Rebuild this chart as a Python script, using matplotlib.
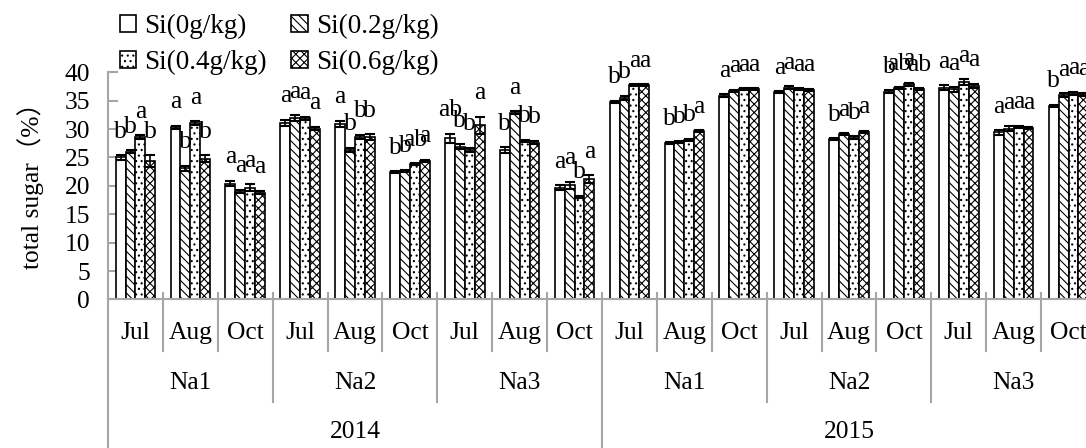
import numpy as np
import matplotlib.pyplot as plt
from matplotlib.patches import Patch
from matplotlib.transforms import blended_transform_factory

plt.rcParams['font.family'] = ['Liberation Serif', 'Noto Sans CJK SC']
plt.rcParams['hatch.linewidth'] = 0.8
plt.rcParams['hatch.color'] = 'black'

# category levels
years = ['2014', '2015']
sites = ['Na1', 'Na2', 'Na3']
months = ['Jul', 'Aug', 'Oct']

series_names = ['Si(0g/kg)', 'Si(0.2g/kg)', 'Si(0.4g/kg)', 'Si(0.6g/kg)']

# total sugar (%), order: 2014 Na1 Jul..Oct, Na2, Na3, then 2015
si_0 = [25.0, 30.3, 20.4, 31.1, 30.9, 22.4, 28.4, 26.3, 19.7,
        34.8, 27.5, 35.9, 36.5, 28.2, 36.6, 37.3, 29.4, 34.1]
si_02 = [26.0, 23.1, 19.0, 31.9, 26.3, 22.6, 26.9, 32.9, 20.1,
         35.5, 27.7, 36.7, 37.3, 29.1, 37.2, 37.0, 30.1, 36.0]
si_04 = [28.6, 31.1, 19.7, 31.9, 28.6, 23.8, 26.3, 27.9, 18.1,
         37.7, 28.1, 37.0, 37.0, 28.5, 37.9, 38.3, 30.4, 36.3]
si_06 = [24.4, 24.8, 18.8, 30.1, 28.6, 24.4, 30.7, 27.6, 21.2,
         37.7, 29.6, 37.0, 36.9, 29.5, 37.0, 37.6, 30.2, 36.1]

err_0 = [0.4, 0.3, 0.5, 0.5, 0.6, 0.2, 0.8, 0.5, 0.4,
         0.2, 0.2, 0.2, 0.2, 0.2, 0.2, 0.4, 0.4, 0.2]
err_02 = [0.3, 0.4, 0.3, 0.5, 0.4, 0.2, 0.4, 0.2, 0.6,
          0.4, 0.2, 0.2, 0.2, 0.2, 0.2, 0.4, 0.4, 0.3]
err_04 = [0.3, 0.3, 0.6, 0.3, 0.4, 0.2, 0.4, 0.2, 0.2,
          0.2, 0.2, 0.2, 0.2, 0.2, 0.3, 0.5, 0.2, 0.3]
err_06 = [1.0, 0.6, 0.3, 0.3, 0.5, 0.2, 1.5, 0.3, 0.7,
          0.2, 0.2, 0.2, 0.2, 0.2, 0.2, 0.4, 0.2, 0.3]

# significance letters
let_0 = ['b', 'a', 'a', 'a', 'a', 'b', 'ab', 'b', 'a',
         'b', 'b', 'a', 'a', 'b', 'b', 'a', 'a', 'b']
let_02 = ['b', 'b', 'a', 'a', 'b', 'b', 'b', 'a', 'a',
          'b', 'b', 'a', 'a', 'a', 'ab', 'a', 'a', 'a']
let_04 = ['a', 'a', 'a', 'a', 'b', 'ab', 'b', 'b', 'b',
          'a', 'b', 'a', 'a', 'b', 'a', 'a', 'a', 'a']
let_06 = ['b', 'b', 'a', 'a', 'b', 'a', 'a', 'b', 'a',
          'a', 'a', 'a', 'a', 'a', 'ab', 'a', 'a', 'a']

values = [si_0, si_02, si_04, si_06]
errors = [err_0, err_02, err_04, err_06]
letters = [let_0, let_02, let_04, let_06]
hatches = ['', '\\\\\\\\', '...', 'xxxx']

FS = 18.4
GRAY = '#a6a6a6'

fig = plt.figure(figsize=(10.86, 4.48), dpi=100)
ax = fig.add_axes([108 / 1086, 1 - 299.4 / 448, 988 / 1086, 227.1 / 448])

n = len(si_0)
x = np.arange(n) + 0.5
w = 0.18

handles = []
for k in range(4):
    xs = x + (k - 1.5) * w
    bars = ax.bar(xs, values[k], w, color='white', edgecolor='black',
                  linewidth=1.2, hatch=hatches[k], zorder=2)
    ax.errorbar(xs, values[k], yerr=errors[k], fmt='none', ecolor='black',
                elinewidth=1.2, capsize=3.6, capthick=1.5, zorder=3)
    for xi, v, e, t in zip(xs, values[k], errors[k], letters[k]):
        ax.annotate(t, (xi, v + e), xytext=(0, 9), textcoords='offset points',
                    ha='center', va='bottom', fontsize=FS)
    handles.append(Patch(facecolor='white', edgecolor='black', linewidth=1.2,
                         hatch=hatches[k], label=series_names[k]))

ax.set_xlim(0, n)
ax.set_ylim(0, 40)
ax.set_yticks(np.arange(0, 41, 5))
ax.set_xticks([])
ax.tick_params(axis='y', direction='in', length=7, width=1.5, color=GRAY,
               labelsize=FS, pad=13)
for s in ['top', 'right']:
    ax.spines[s].set_visible(False)
for s in ['left', 'bottom']:
    ax.spines[s].set_color(GRAY)
    ax.spines[s].set_linewidth(1.5)

ax.set_ylabel('total sugar（%）', fontsize=FS)
ax.yaxis.set_label_coords(-0.065, 0.53)

# multi-level category axis
tr = blended_transform_factory(ax.transData, ax.transAxes)
for b in range(n + 1):
    if b % 9 == 0:
        bottom = -0.68
    elif b % 3 == 0:
        bottom = -0.45
    else:
        bottom = -0.227
    ax.plot([b, b], [0.03, bottom], color=GRAY, lw=1.5, transform=tr,
            clip_on=False, zorder=1)

for i in range(n):
    ax.text(x[i], -0.148, months[i % 3], transform=tr, ha='center',
            va='center', fontsize=FS)
for j in range(6):
    ax.text(3 * j + 1.5, -0.368, sites[j % 3], transform=tr, ha='center',
            va='center', fontsize=FS)
for j in range(2):
    ax.text(9 * j + 4.5, -0.583, years[j], transform=tr, ha='center',
            va='center', fontsize=FS)

order = [0, 2, 1, 3]
fig.legend([handles[i] for i in order], [series_names[i] for i in order],
           loc='upper left', bbox_to_anchor=(120 / 1086, 1 - 14 / 448),
           ncol=2, frameon=False, fontsize=19.5, borderpad=0, borderaxespad=0,
           handlelength=0.6, handleheight=0.6, handletextpad=0.3,
           columnspacing=0.9, labelspacing=0.4)

fig.savefig('out.png', dpi=100)
